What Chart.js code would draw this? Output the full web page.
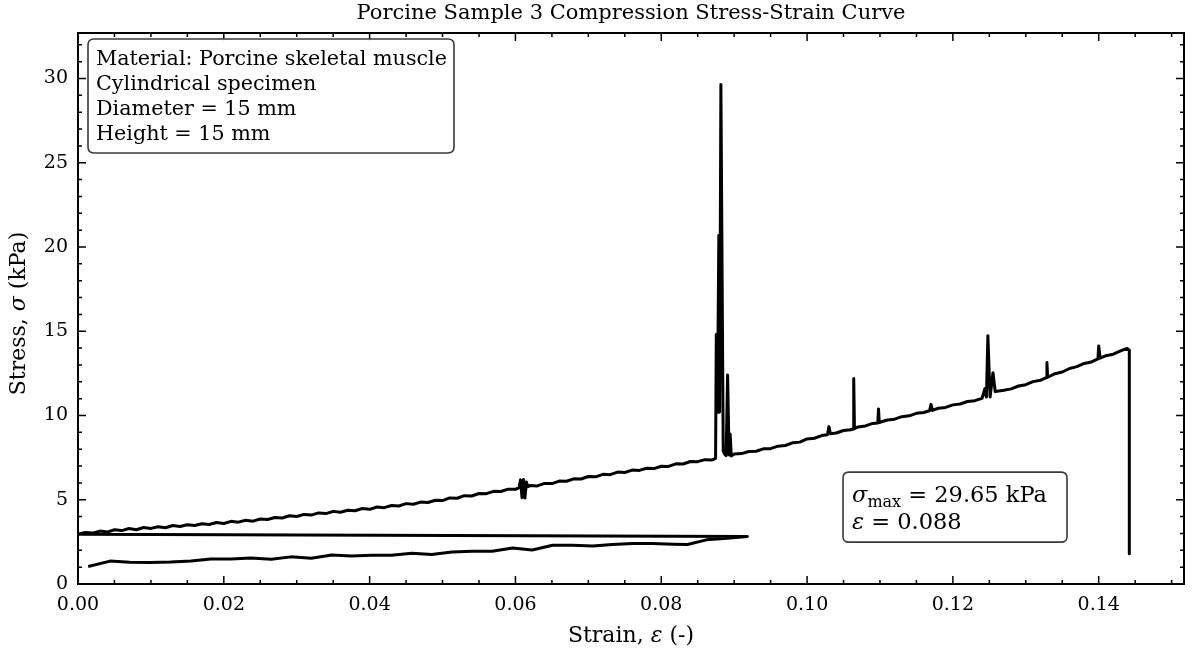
<!DOCTYPE html>
<html><head><meta charset="utf-8">
<script src="https://cdn.jsdelivr.net/npm/chart.js@4.4.1/dist/chart.umd.min.js"></script>
<style>html,body{margin:0;padding:0;background:#fff}#wrap{width:1192px;height:657px}</style>
</head><body><div id="wrap"><canvas id="c" width="1192" height="657"></canvas></div>
<script>
// ---- data ----
const preStrain = [0.0014,0.0044,0.0071,0.0099,0.0127,0.0155,0.0182,0.0210,0.0237,0.0265,0.0292,0.0320,0.0348,0.0375,0.0403,0.0430,0.0458,0.0485,0.0513,0.0541,0.0568,0.0596,0.0623,0.0651,0.0678,0.0706,0.0733,0.0761,0.0788,0.0816,0.0836,0.0862,0.0890,0.0918];
const preStress = [1.04,1.36,1.29,1.28,1.30,1.36,1.48,1.48,1.55,1.47,1.61,1.53,1.72,1.66,1.71,1.71,1.82,1.75,1.90,1.94,1.94,2.14,2.02,2.30,2.30,2.26,2.35,2.40,2.40,2.36,2.34,2.62,2.72,2.82];

const loadStrain = [0.000,0.001,0.002,0.003,0.004,0.005,0.006,0.007,0.008,0.009,
0.010,0.011,0.012,0.013,0.014,0.015,0.016,0.017,0.018,0.019,
0.020,0.021,0.022,0.023,0.024,0.025,0.026,0.027,0.028,0.029,
0.030,0.031,0.032,0.033,0.034,0.035,0.036,0.037,0.038,0.039,
0.040,0.041,0.042,0.043,0.044,0.045,0.046,0.047,0.048,0.049,
0.050,0.051,0.052,0.053,0.054,0.055,0.056,0.057,0.058,0.059,
0.060,0.0605,0.0607,0.0609,0.0611,0.0613,0.0615,0.0617,0.062,0.063,0.064,0.065,0.066,0.067,0.068,0.069,
0.070,0.071,0.072,0.073,0.074,0.075,0.076,0.077,0.078,0.079,
0.080,0.081,0.082,0.083,0.084,0.085,0.086,0.087,0.0873,
0.08745,0.08755,0.0877,0.0879,0.0880,0.08818,0.0885,0.0887,0.0889,0.0891,0.0893,0.08945,0.0896,
0.090,0.091,0.092,0.093,0.094,0.095,0.096,0.097,0.098,0.099,
0.100,0.101,0.102,0.1028,0.1030,0.1032,0.104,0.105,0.106,0.1063,0.1064,0.1065,0.107,0.108,0.109,0.1097,0.1098,0.1099,
0.110,0.111,0.112,0.113,0.114,0.115,0.116,0.1168,0.1170,0.1172,0.118,0.119,
0.120,0.121,0.122,0.123,0.124,0.1244,0.1246,0.1248,0.1251,0.1255,0.1258,0.127,0.128,0.129,
0.130,0.131,0.132,0.1328,0.1329,0.1330,0.134,0.135,0.136,0.137,0.138,0.139,0.1399,0.1400,0.1402,
0.141,0.142,0.143,0.1439,0.1442,0.1442];
const loadStress = [2.95,3.06,3.02,3.14,3.08,3.22,3.17,3.29,3.22,3.35,
3.30,3.40,3.34,3.47,3.41,3.52,3.47,3.58,3.53,3.65,
3.59,3.72,3.67,3.78,3.73,3.86,3.83,3.95,3.92,4.05,
4.01,4.13,4.09,4.22,4.18,4.31,4.26,4.38,4.35,4.48,
4.43,4.57,4.53,4.66,4.63,4.77,4.73,4.86,4.84,4.97,
4.95,5.11,5.09,5.24,5.22,5.37,5.36,5.50,5.49,5.63,
5.62,5.72,6.18,5.12,6.20,5.10,6.05,5.78,5.84,5.82,5.97,5.96,6.11,6.10,6.24,6.23,
6.38,6.36,6.51,6.49,6.64,6.62,6.76,6.74,6.87,6.85,
6.99,6.98,7.13,7.12,7.27,7.26,7.38,7.36,7.42,
7.45,14.8,10.2,20.7,10.2,29.65,7.9,7.7,7.62,12.4,7.65,8.9,7.6,
7.72,7.74,7.86,7.88,8.02,8.03,8.18,8.22,8.38,8.42,
8.61,8.65,8.81,8.86,9.34,8.92,8.96,9.11,9.15,9.20,12.2,9.22,9.32,9.38,9.53,9.55,10.39,9.58,
9.60,9.73,9.78,9.93,9.98,10.13,10.18,10.28,10.66,10.30,10.43,10.48,
10.63,10.68,10.83,10.88,11.02,11.60,11.10,14.74,11.10,12.54,11.42,11.50,11.58,11.75,
11.83,12.01,12.09,12.25,13.14,12.27,12.48,12.58,12.79,12.90,13.09,13.18,13.36,14.13,13.40,
13.55,13.64,13.83,13.98,13.88,1.79];

const xTickValues = [0,0.02,0.04,0.06,0.08,0.10,0.12,0.14];
const xTickLabels = ['0.00','0.02','0.04','0.06','0.08','0.10','0.12','0.14'];
const yTickValues = [0,5,10,15,20,25,30];
const yTickLabels = ['0','5','10','15','20','25','30'];

const titleText = 'Porcine Sample 3 Compression Stress-Strain Curve';
const infoLines = ['Material: Porcine skeletal muscle','Cylindrical specimen','Diameter = 15 mm','Height = 15 mm'];
const peakStress = '29.65';
const peakStrain = '0.088';

// ---- rendering ----
const F = '"DejaVu Serif", "Liberation Serif", serif';
const points = preStrain.map((x,i)=>({x, y:preStress[i]}))
  .concat(loadStrain.map((x,i)=>({x, y:loadStress[i]})));

function drawSegs(ctx, segs, x, y, align){
  let w = 0;
  segs.forEach(s=>{ctx.font=s.f; w+=ctx.measureText(s.t).width;});
  let cx = align==='center' ? x - w/2 : x;
  ctx.textAlign='left';
  segs.forEach(s=>{ctx.font=s.f; ctx.fillText(s.t, cx, y + (s.dy||0)); cx += ctx.measureText(s.t).width;});
}
function roundBox(ctx,x,y,w,h,r){
  ctx.beginPath();
  ctx.moveTo(x+r,y);ctx.lineTo(x+w-r,y);ctx.quadraticCurveTo(x+w,y,x+w,y+r);
  ctx.lineTo(x+w,y+h-r);ctx.quadraticCurveTo(x+w,y+h,x+w-r,y+h);
  ctx.lineTo(x+r,y+h);ctx.quadraticCurveTo(x,y+h,x,y+h-r);
  ctx.lineTo(x,y+r);ctx.quadraticCurveTo(x,y,x+r,y);ctx.closePath();
}

const deco = {
  id:'deco',
  afterDraw(chart){
    const ctx = chart.ctx, a = chart.chartArea, sx = chart.scales.x, sy = chart.scales.y;
    const W = a.right-a.left, H = a.bottom-a.top;
    ctx.save();
    ctx.strokeStyle='#000'; ctx.lineWidth=1.5;
    const tick=(px,len,vert)=>{
      ctx.beginPath();
      if(vert){ctx.moveTo(px,a.bottom);ctx.lineTo(px,a.bottom-len);ctx.moveTo(px,a.top);ctx.lineTo(px,a.top+len);}
      else{ctx.moveTo(a.left,px);ctx.lineTo(a.left+len,px);ctx.moveTo(a.right,px);ctx.lineTo(a.right-len,px);}
      ctx.stroke();
    };
    for(let k=1;k*0.005<=sx.max;k++){ if(k%4) tick(sx.getPixelForValue(k*0.005),4,true);}
    xTickValues.forEach(v=>tick(sx.getPixelForValue(v),8,true));
    for(let k=1;k<=sy.max;k++){ if(k%5) tick(sy.getPixelForValue(k),4,false);}
    yTickValues.forEach(v=>tick(sy.getPixelForValue(v),8,false));
    ctx.lineWidth=2;
    ctx.strokeRect(a.left,a.top,W,H);
    ctx.fillStyle='#000'; ctx.textBaseline='alphabetic';
    const reg = '22px '+F, it = 'italic 22px '+F;
    ctx.font = '21px '+F; ctx.textAlign='center';
    ctx.fillText(titleText,(a.left+a.right)/2,19);
    drawSegs(ctx,[{t:'Strain, ',f:reg},{t:'ε',f:it},{t:' (-)',f:reg}],(a.left+a.right)/2,642,'center');
    ctx.save(); ctx.translate(25,(a.top+a.bottom)/2+5); ctx.rotate(-Math.PI/2);
    drawSegs(ctx,[{t:'Stress, ',f:reg},{t:'σ',f:it},{t:' (kPa)',f:reg}],0,0,'center');
    ctx.restore();
    // info box
    ctx.lineWidth=1.6; ctx.strokeStyle='#3a3a3a'; ctx.fillStyle='rgba(255,255,255,0.9)';
    roundBox(ctx,a.left+10,a.top+6,366,114,6); ctx.fill(); ctx.stroke();
    ctx.fillStyle='#000'; ctx.font='20.7px '+F; ctx.textAlign='left';
    infoLines.forEach((t,i)=>ctx.fillText(t,a.left+18,a.top+32+i*25));
    // peak box
    const bx = a.left+0.6917*W, by = a.top+0.797*H;
    ctx.strokeStyle='#3a3a3a'; ctx.fillStyle='rgba(255,255,255,0.9)';
    roundBox(ctx,bx,by,224,70,6); ctx.fill(); ctx.stroke();
    ctx.fillStyle='#000';
    drawSegs(ctx,[{t:'σ',f:'italic 22.5px '+F},{t:'max',f:'16px '+F,dy:5},{t:' = '+peakStress+' kPa',f:'22.5px '+F}],bx+9,by+30,'left');
    drawSegs(ctx,[{t:'ε',f:'italic 22.5px '+F},{t:' = '+peakStrain,f:'22.5px '+F}],bx+9,by+57,'left');
    ctx.restore();
  }
};

new Chart(document.getElementById('c').getContext('2d'),{
  type:'scatter',
  data:{datasets:[{data:points,showLine:true,borderColor:'#000',backgroundColor:'#000',borderWidth:3,
    pointRadius:0,tension:0,borderJoinStyle:'round',borderCapStyle:'butt'}]},
  options:{
    responsive:false, animation:false, events:[],
    layout:{padding:{left:0,right:8,top:33,bottom:0}},
    plugins:{legend:{display:false},tooltip:{enabled:false},title:{display:false}},
    scales:{
      x:{type:'linear',min:0,max:0.1517,
        grid:{display:false,drawTicks:false},border:{display:false},
        ticks:{color:'#000',font:{family:F,size:19},padding:10,maxRotation:0,
          callback:(v,i)=>xTickLabels[i]},
        afterBuildTicks:s=>{s.ticks=xTickValues.map(v=>({value:v}));},
        afterFit:s=>{s.height=73;}},
      y:{type:'linear',min:0,max:32.7,
        grid:{display:false,drawTicks:false},border:{display:false},
        ticks:{color:'#000',font:{family:F,size:19},padding:10,
          callback:(v,i)=>yTickLabels[i]},
        afterBuildTicks:s=>{s.ticks=yTickValues.map(v=>({value:v}));},
        afterFit:s=>{s.width=78;}}
    }
  },
  plugins:[deco]
});
</script></body></html>
